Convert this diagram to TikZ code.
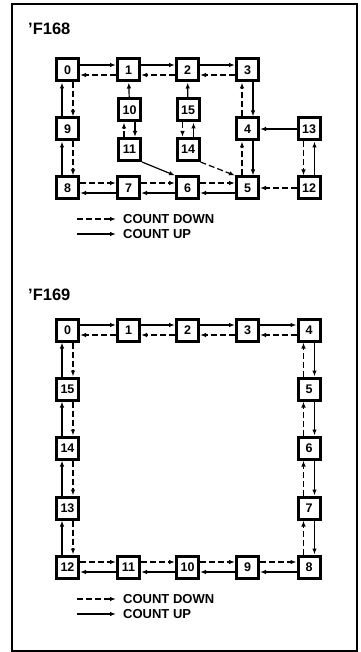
\documentclass[tikz,border=0pt]{standalone}
\usepackage{fontspec}
\setmainfont{Liberation Sans}
\usetikzlibrary{arrows.meta}

\begin{document}
\begin{tikzpicture}[x=1pt,y=-1pt,
      state/.style={draw,line width=3pt,minimum size=22pt,inner sep=0pt,font=\fontsize{12.5}{12.5}\selectfont\bfseries},
      up/.style={-{Latex[length=6pt,width=4.5pt]},line width=1.2pt},
      dn/.style={up,dash pattern=on 6pt off 3pt},
      lbl/.style={anchor=west,inner sep=0pt,font=\fontsize{13}{13}\selectfont\bfseries},
      ttl/.style={anchor=base west,inner sep=0pt,font=\fontsize{16.5}{16.5}\selectfont\bfseries}
    ]
      \useasboundingbox (0,0) rectangle (360,652);
      \draw[line width=1.5pt] (12,4) rectangle (357,651);

      % 'F168
      \node[ttl] (t1) at (28,35) {'F168};
      \node[state] (p0) at (67.5,70) {0};
      \node[state] (p1) at (128.5,70) {1};
      \node[state] (p2) at (187.5,70) {2};
      \node[state] (p3) at (247.5,70) {3};
      \node[state] (p10) at (129.5,110) {10};
      \node[state] (p15) at (188,110) {15};
      \node[state] (p9) at (67.5,129) {9};
      \node[state] (p4) at (247.5,129) {4};
      \node[state] (p13) at (309,129) {13};
      \node[state] (p11) at (129.5,149.5) {11};
      \node[state] (p14) at (188,149.5) {14};
      \node[state] (p8) at (67.5,188) {8};
      \node[state] (p7) at (128.5,188) {7};
      \node[state] (p6) at (187.5,188) {6};
      \node[state] (p5) at (247.5,188) {5};
      \node[state] (p12) at (309,188) {12};

      % 'F169
      \node[ttl] (t2) at (28,300) {'F169};
      \node[state] (q0) at (67.5,330) {0};
      \node[state] (q1) at (128.5,330) {1};
      \node[state] (q2) at (187.5,330) {2};
      \node[state] (q3) at (247.5,330) {3};
      \node[state] (q4) at (309,330) {4};
      \node[state] (q15) at (67.5,389) {15};
      \node[state] (q5) at (309,389) {5};
      \node[state] (q14) at (67.5,448) {14};
      \node[state] (q6) at (309,448) {6};
      \node[state] (q13) at (67.5,508) {13};
      \node[state] (q7) at (309,508) {7};
      \node[state] (q12) at (67.5,567) {12};
      \node[state] (q11) at (128.5,567) {11};
      \node[state] (q10) at (187.5,567) {10};
      \node[state] (q9) at (247.5,567) {9};
      \node[state] (q8) at (309,567) {8};

      % rows: up to the right on top
      \foreach \l/\r in {p0/p1,p1/p2,p2/p3,q0/q1,q1/q2,q2/q3,q3/q4}{
        \draw[up] ([yshift=5pt]\l.east) -- ([yshift=5pt]\r.west);
        \draw[dn] ([yshift=-5pt]\r.west) -- ([yshift=-5pt]\l.east);
      }
      % rows: down to the right at the bottom
      \foreach \l/\r in {p8/p7,p7/p6,p6/p5,q12/q11,q11/q10,q10/q9,q9/q8}{
        \draw[dn] ([yshift=5pt]\l.east) -- ([yshift=5pt]\r.west);
        \draw[up] ([yshift=-5pt]\r.west) -- ([yshift=-5pt]\l.east);
      }
      % columns going up
      \foreach \t/\b in {p0/p9,p9/p8,q0/q15,q15/q14,q14/q13,q13/q12}{
        \draw[up] ([xshift=-5.5pt]\b.north) -- ([xshift=-5.5pt]\t.south);
        \draw[dn] ([xshift=5.5pt]\t.south) -- ([xshift=5.5pt]\b.north);
      }
      % columns going down
      \foreach \t/\b in {p3/p4,p4/p5,p10/p11,q4/q5,q5/q6,q6/q7,q7/q8}{
        \draw[dn] ([xshift=-5.5pt]\b.north) -- ([xshift=-5.5pt]\t.south);
        \draw[up] ([xshift=5.5pt]\t.south) -- ([xshift=5.5pt]\b.north);
      }
      \foreach \t/\b in {p13/p12,p15/p14}{
        \draw[dn] ([xshift=-5.5pt]\t.south) -- ([xshift=-5.5pt]\b.north);
        \draw[up] ([xshift=5.5pt]\b.north) -- ([xshift=5.5pt]\t.south);
      }
      % unused states
      \draw[up] (p10) -- (p1);
      \draw[up] (p15) -- (p2);
      \draw[up] (p13) -- (p4);
      \draw[dn] (p12) -- (p5);
      \draw[up] (p11.south east) -- (p6.north west);
      \draw[dn] (p14.south east) -- (p5.north west);

      % legends
      \coordinate (a1) at (77,219);
      \coordinate (a2) at (116,219);
      \coordinate (b1) at (77,234);
      \coordinate (b2) at (116,234);
      \draw[dn] (a1) -- (a2);
      \draw[up] (b1) -- (b2);
      \node[lbl] (ka) at (123,219) {COUNT DOWN};
      \node[lbl] (kb) at (123,234) {COUNT UP};
      \coordinate (c1) at (77,599);
      \coordinate (c2) at (116,599);
      \coordinate (d1) at (77,614);
      \coordinate (d2) at (116,614);
      \draw[dn] (c1) -- (c2);
      \draw[up] (d1) -- (d2);
      \node[lbl] (kc) at (123,599) {COUNT DOWN};
      \node[lbl] (kd) at (123,614) {COUNT UP};
    \end{tikzpicture}
\end{document}
